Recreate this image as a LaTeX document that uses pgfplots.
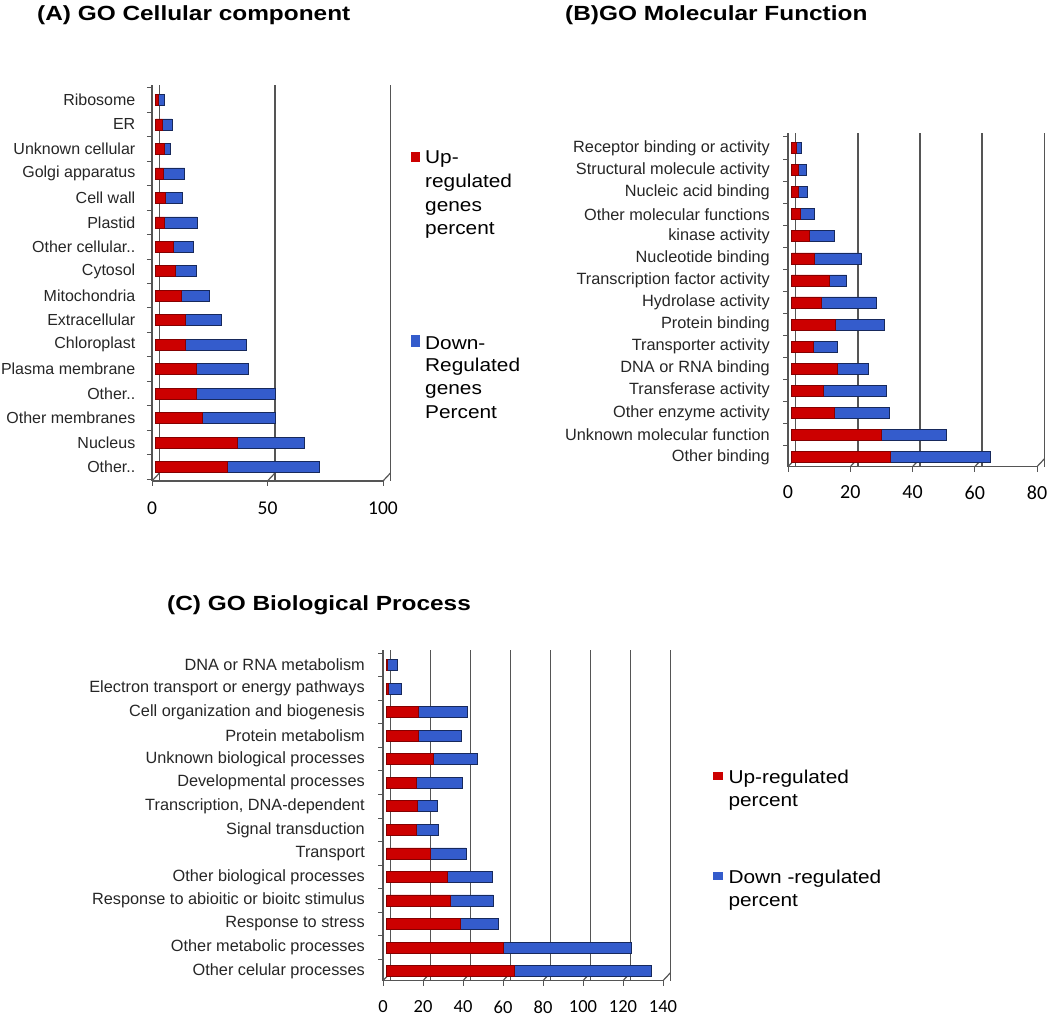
\documentclass[border=0pt]{standalone}
\usepackage{fontspec}
\setmainfont{Liberation Sans}
\newfontfamily\titlefont[FakeStretch=1.19]{Liberation Sans}
\newfontfamily\legfont[FakeStretch=1.12]{Liberation Sans}
\newfontfamily\tickfont{Carlito}
\usepackage{pgfplots}
\pgfplotsset{compat=1.18}
\definecolor{upred}{RGB}{204,0,0}
\definecolor{downblue}{RGB}{52,92,204}
\definecolor{axc}{RGB}{85,85,85}
\tikzset{gridl/.style={draw=axc, line width=1.5bp}}
\pgfplotsset{
  gobase/.style={
    scale only axis, anchor=south west,
    xbar stacked, bar width=11bp,
    xmin=0,
    axis x line*=bottom, axis y line*=left,
    axis line style={draw=axc, line width=1.3bp},
    tick align=outside,
    major tick length=5bp,
    xtick style={draw=axc, line width=1bp},
    ytick style={draw=none},
    extra y tick style={ytick style={draw=axc, line width=1bp}},
    extra y tick labels={},
    xmajorgrids,
    major grid style={draw=axc, line width=1.8bp, xshift=7.5bp},
    yticklabel style={font=\fontsize{16.3bp}{18bp}\selectfont, text=black!85, anchor=east, inner sep=0pt, xshift=-13bp},
    xticklabel style={anchor=north, inner sep=0pt},
    /pgf/number format/assume math mode=true,
    clip=false,
    every axis plot/.append style={xshift=3.5bp},
    enlarge y limits=false,
  },
  upbar/.style={fill=upred, draw=upred!65!black, line width=0.6bp},
  dnbar/.style={fill=downblue, draw=downblue!45!black, line width=0.6bp},
}
% floor diagonals: #1 list of x ticks, #2 ymin
\newcommand\floordiag[2]{%
  \pgfplotsinvokeforeach{#1}{%
    \draw[gridl, line width=1.2bp] (axis cs:##1,#2) -- ([xshift=7.5bp,yshift=8bp]axis cs:##1,#2);
  }%
}
\begin{document}
\begin{tikzpicture}
\useasboundingbox (0,0) rectangle (1050bp,1017bp);

% ---------- (A) ----------
\node[anchor=base west, inner sep=0pt, font=\titlefont\bfseries\fontsize{20.5bp}{22bp}\selectfont] at (37bp,996.3bp) {(A) GO Cellular component};
\begin{axis}[gobase, at={(152bp,536bp)}, width=231bp, height=395.7bp,
  xmax=100, ymin=-0.57, ymax=15.6, xtick={0,50,100},
  ytick={0,...,15},
  yticklabels={Other..,Nucleus,Other membranes,Other..,Plasma membrane,Chloroplast,Extracellular,Mitochondria,Cytosol,Other cellular..,Plastid,Cell wall,Golgi apparatus,Unknown cellular,ER,Ribosome},
  yticklabel style={font=\fontsize{16bp}{18bp}\selectfont, xshift=1.5bp},
  extra y ticks={-0.5,0.5,...,15.5},
  xticklabel style={font=\tickfont\fontsize{19.5bp}{21bp}\selectfont, yshift=-16bp}]
\addplot[upbar] coordinates {(31.1,0) (35.3,1) (20.4,2) (17.6,3) (17.6,4) (13.1,5) (13.1,6) (11.1,7) (8.6,8) (7.6,9) (4,10) (4.3,11) (3.3,12) (3.9,13) (2.9,14) (1,15)};
\addplot[dnbar] coordinates {(39.9,0) (29.1,1) (31.5,2) (34.1,3) (22.4,4) (26.2,5) (15.3,6) (12,7) (9,8) (8.8,9) (13.9,10) (7.1,11) (9.3,12) (2.5,13) (4.2,14) (2.6,15)};
\floordiag{0,50,100}{-0.57}
\end{axis}
% legend A
\fill[upred] (410.7bp,855.3bp) rectangle (420bp,865.3bp);
\fill[downblue] (410.7bp,670.3bp) rectangle (420bp,682bp);
\begin{scope}[every node/.style={anchor=base west, inner sep=0pt, font=\legfont\fontsize{18.6bp}{20bp}\selectfont}]
\node at (425bp,853.7bp) {Up-};
\node at (425bp,829.7bp) {regulated};
\node at (425bp,805.3bp) {genes};
\node at (425bp,782bp) {percent};
\node at (425bp,667bp) {Down-};
\node at (425bp,645.3bp) {Regulated};
\node at (425bp,622bp) {genes};
\node at (425bp,598.7bp) {Percent};
\end{scope}

% ---------- (B) ----------
\node[anchor=base west, inner sep=0pt, font=\titlefont\bfseries\fontsize{20.5bp}{22bp}\selectfont] at (565bp,996.3bp) {(B)GO Molecular Function};
\begin{axis}[gobase, at={(788bp,550.3bp)}, width=249bp, height=333.7bp,
  xmax=80, ymin=-0.44, ymax=14.68, xtick={0,20,...,80},
  ytick={0,...,14},
  yticklabels={Other binding,Unknown molecular function,Other enzyme activity,Transferase activity,DNA or RNA binding,Transporter activity,Protein binding,Hydrolase activity,Transcription factor activity,Nucleotide binding,kinase activity,Other molecular functions,Nucleic acid binding,Structural molecule activity,Receptor binding or activity},
  extra y ticks={0.5,1.5,...,14.5},
  xticklabel style={font=\tickfont\fontsize{20bp}{22bp}\selectfont, yshift=-14bp}]
\addplot[upbar] coordinates {(31.8,0) (28.8,1) (13.8,2) (10.2,3) (14.8,4) (7.1,5) (14,6) (9.5,7) (12.2,8) (7.3,9) (5.7,10) (2.7,11) (2.2,12) (2.2,13) (1.6,14)};
\addplot[dnbar] coordinates {(32,0) (21,1) (17.7,2) (20.2,3) (9.9,4) (7.7,5) (15.9,6) (17.7,7) (5.5,8) (15.1,9) (8.1,10) (4.6,11) (3,12) (2.7,13) (1.6,14)};
\floordiag{0,20,40,60,80}{-0.44}
\end{axis}

% ---------- (C) ----------
\node[anchor=base west, inner sep=0pt, font=\titlefont\bfseries\fontsize{20.5bp}{22bp}\selectfont] at (167bp,406.3bp) {(C) GO Biological Process};
\begin{axis}[gobase, at={(383bp,36.3bp)}, width=280bp, height=330.7bp,
  xmax=140, ymin=-0.41, ymax=13.64, xtick={0,20,...,140},
  ytick={0,...,13},
  yticklabels={Other celular processes,Other metabolic processes,Response to stress,Response to abioitic or bioitc stimulus,Other biological processes,Transport,Signal transduction,{Transcription, DNA-dependent},Developmental processes,Unknown biological processes,Protein metabolism,Cell organization and biogenesis,Electron transport or energy pathways,DNA or RNA metabolism},
  extra y ticks={0.5,1.5,...,13.5},
  xticklabel style={font=\tickfont\fontsize{18.5bp}{20bp}\selectfont, yshift=-15bp}]
\addplot[upbar] coordinates {(63.8,0) (58.5,1) (36.8,2) (31.7,3) (30.2,4) (21.8,5) (14.7,6) (15.2,7) (14.7,8) (23.5,9) (15.8,10) (15.8,11) (1,12) (0.3,13)};
\addplot[dnbar] coordinates {(68.4,0) (63.7,1) (19.2,2) (21.6,3) (22.5,4) (17.9,5) (11.3,6) (10.3,7) (23.3,8) (22,9) (21.4,10) (24.7,11) (6.2,12) (5.2,13)};
\floordiag{0,20,40,60,80,100,120,140}{-0.41}
\end{axis}
% legend C
\fill[upred] (713.3bp,237bp) rectangle (722.7bp,245.3bp);
\fill[downblue] (713.3bp,137bp) rectangle (722.7bp,145.3bp);
\begin{scope}[every node/.style={anchor=base west, inner sep=0pt, font=\legfont\fontsize{18.6bp}{20bp}\selectfont}]
\node at (728.3bp,233.7bp) {Up-regulated};
\node at (728.3bp,210.3bp) {percent};
\node at (728.3bp,133.7bp) {Down -regulated};
\node at (728.3bp,110.3bp) {percent};
\end{scope}
\end{tikzpicture}
\end{document}
